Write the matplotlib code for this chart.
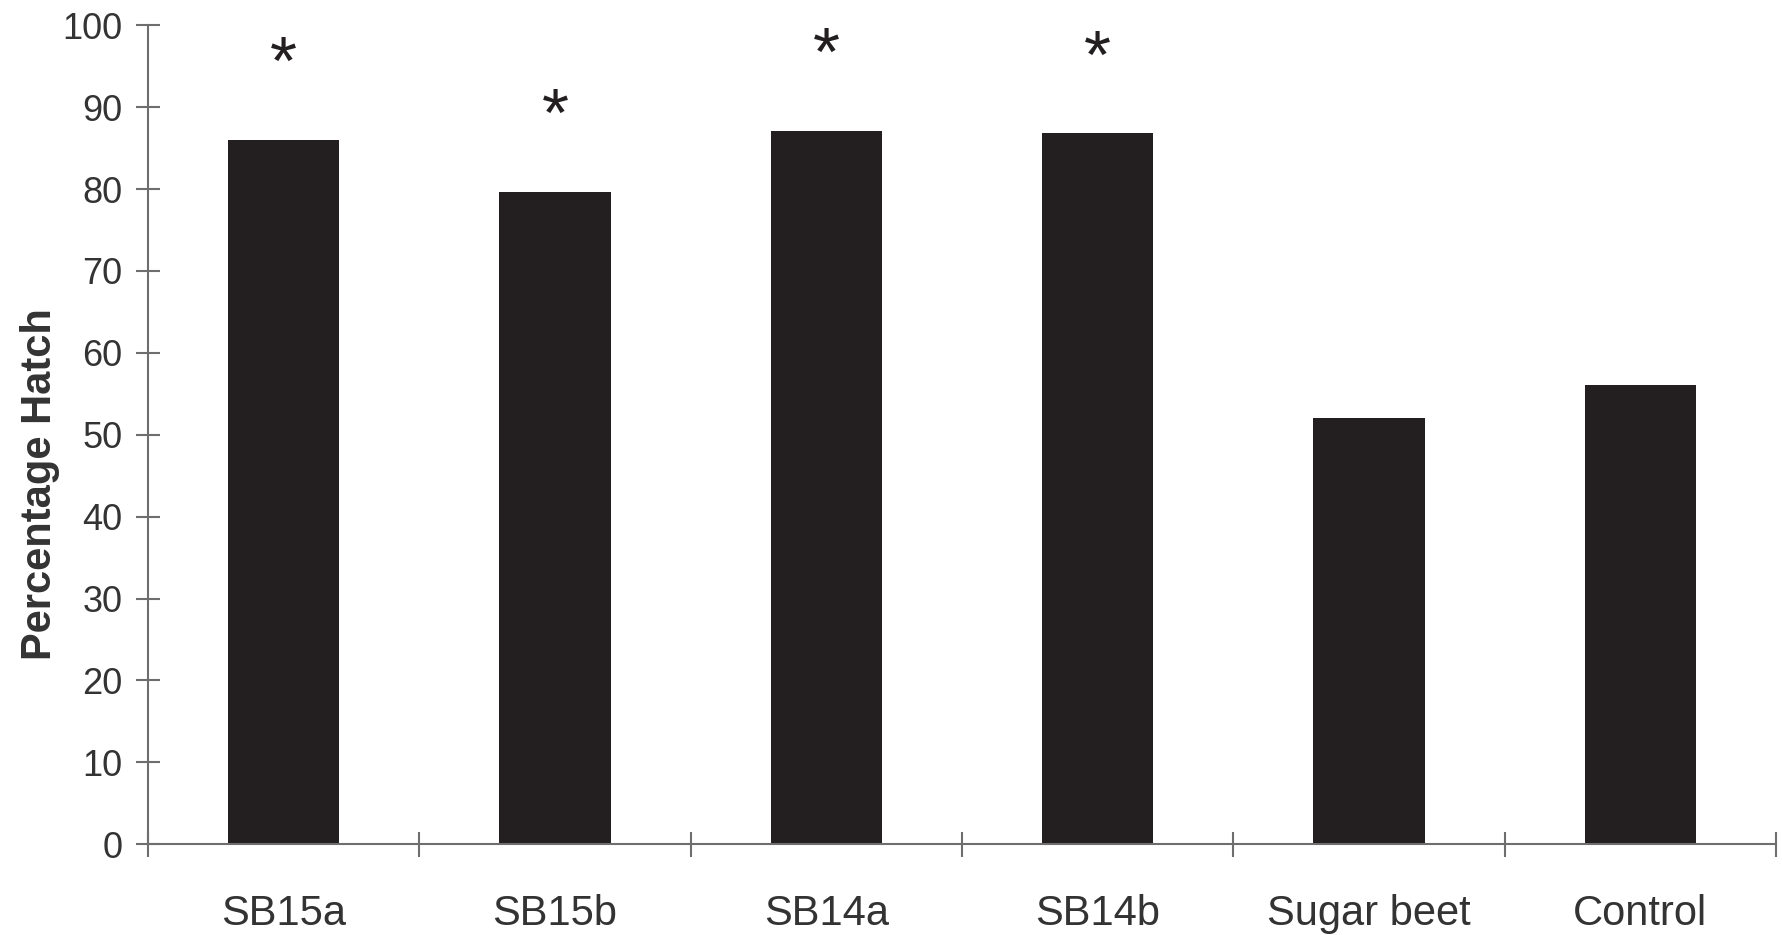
import matplotlib.pyplot as plt
import numpy as np

categories = ['SB15a', 'SB15b', 'SB14a', 'SB14b', 'Sugar beet', 'Control']
hatch_pct = [86.0, 79.7, 87.1, 86.8, 52.0, 56.1]
significant = [True, True, True, True, False, False]

plt.rcParams['font.family'] = ['Liberation Sans', 'DejaVu Sans']

axis_col = '#6e6e6e'
text_col = '#333333'
bar_col = '#231f20'

fig = plt.figure(figsize=(17.82, 9.35), dpi=100)
ax = fig.add_axes([0.083, 0.097, 0.9136, 0.876])

x = np.arange(len(categories))
ax.bar(x, hatch_pct, width=0.41, color=bar_col, zorder=2)

# significance stars above bars
for xi, v, sig in zip(x, hatch_pct, significant):
    if sig:
        ax.text(xi, v + 6.8, '*', ha='center', va='baseline', fontsize=50, color=bar_col)

ax.set_xlim(-0.5, len(categories) - 0.5)
ax.set_ylim(0, 100)
ax.set_yticks(np.arange(0, 101, 10))

ax.set_xticks(x)
ax.set_xticklabels(categories)
ax.set_xticks(np.arange(-0.5, len(categories), 1.0), minor=True)
ax.tick_params(axis='x', which='major', length=0, pad=36, labelsize=30, labelcolor=text_col)
ax.tick_params(axis='x', which='minor', direction='inout', length=18, width=1.5, color=axis_col)
ax.tick_params(axis='y', direction='inout', length=17, width=1.5, color=axis_col,
               pad=10, labelsize=26, labelcolor=text_col)

for s in ['top', 'right']:
    ax.spines[s].set_visible(False)
for s in ['left', 'bottom']:
    ax.spines[s].set_color(axis_col)
    ax.spines[s].set_linewidth(1.5)

ax.set_ylabel('Percentage Hatch', fontsize=30, fontweight='bold', color=text_col)
ax.yaxis.set_label_coords(-0.054, 0.44)

fig.savefig('out.png', dpi=100)
